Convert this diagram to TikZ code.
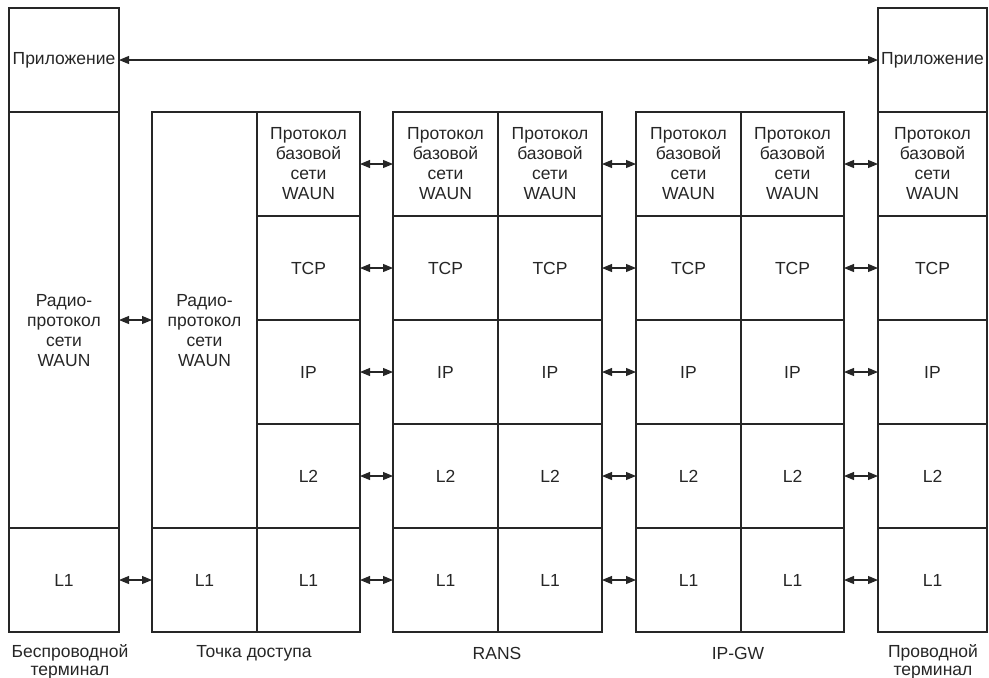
\documentclass[tikz,border=0pt]{standalone}
\usepackage{fontspec}
\setmainfont{Liberation Sans}
\usetikzlibrary{arrows.meta}
\definecolor{ink}{gray}{0.15}
\tikzset{
  cellbox/.style={draw=ink, line width=1.1pt, inner sep=0pt, outer sep=0pt,
    text=ink, align=center, font=\fontsize{17.5}{20}\selectfont},
  lbl/.style={text=ink, align=center, inner sep=0pt, font=\fontsize{17.5}{18.5}\selectfont},
  tip/.tip={Triangle[length=10pt,width=8pt]},
  link/.style={draw=ink, line width=1.1pt, tip-tip}
}
% \cellbox{name}{x1}{y1}{x2}{y2}{text}: a rectangle given by its corners
\newcommand\cellbox[6]{%
  \node[cellbox, minimum width={#4-#2}, minimum height={#5-#3}] (#1)
    at ({(#2+#4)/2},{(#3+#5)/2}) {#6};}
\newcommand\waun{Протокол\\базовой\\сети\\WAUN}
\begin{document}
\begin{tikzpicture}[x=1pt, y=-1pt]
\useasboundingbox (0,0) rectangle (989,678);

% wireless terminal
\cellbox{a-app}{9}{8}{119}{112}{Приложение}
\cellbox{a-rad}{9}{112}{119}{528}{}
\node[cellbox, draw=none] (a-radtxt) at (64,331) {Радио-\\протокол\\сети\\WAUN};
\cellbox{a-l1}{9}{528}{119}{632}{L1}

% access point
\cellbox{b-rad}{152}{112}{257}{528}{}
\node[cellbox, draw=none] (b-radtxt) at (204.5,331) {Радио-\\протокол\\сети\\WAUN};
\cellbox{b-l1a}{152}{528}{257}{632}{L1}
\cellbox{b-waun}{257}{112}{360}{216}{\waun}
\cellbox{b-tcp}{257}{216}{360}{320}{TCP}
\cellbox{b-ip}{257}{320}{360}{424}{IP}
\cellbox{b-l2}{257}{424}{360}{528}{L2}
\cellbox{b-l1}{257}{528}{360}{632}{L1}

% RANS and IP-GW: two full stacks each
\foreach \n/\xa/\xb in {c1/393/498, c2/498/602, d1/636/741, d2/741/844} {
  \cellbox{\n-waun}{\xa}{112}{\xb}{216}{\waun}
  \cellbox{\n-tcp}{\xa}{216}{\xb}{320}{TCP}
  \cellbox{\n-ip}{\xa}{320}{\xb}{424}{IP}
  \cellbox{\n-l2}{\xa}{424}{\xb}{528}{L2}
  \cellbox{\n-l1}{\xa}{528}{\xb}{632}{L1}
}

% wired terminal
\cellbox{e-app}{878}{8}{987}{112}{Приложение}
\cellbox{e-waun}{878}{112}{987}{216}{\waun}
\cellbox{e-tcp}{878}{216}{987}{320}{TCP}
\cellbox{e-ip}{878}{320}{987}{424}{IP}
\cellbox{e-l2}{878}{424}{987}{528}{L2}
\cellbox{e-l1}{878}{528}{987}{632}{L1}

% peer links
\draw[link] (a-app.east) -- (e-app.west);
\draw[link] (a-rad.east) -- (b-rad.west);
\draw[link] (a-l1.east) -- (b-l1a.west);
\foreach \l/\r in {b/c1, c2/d1, d2/e} {
  \foreach \row in {waun, tcp, ip, l2, l1}
    \draw[link] (\l-\row.east) -- (\r-\row.west);
}

% station names
\node[lbl] (n-a) at (70,662) {Беспроводной\\терминал};
\node[lbl] (n-b) at (254,653) {Точка доступа};
\node[lbl] (n-c) at (497,653) {RANS};
\node[lbl] (n-d) at (738,653) {IP-GW};
\node[lbl] (n-e) at (933,662) {Проводной\\терминал};
\end{tikzpicture}
\end{document}
